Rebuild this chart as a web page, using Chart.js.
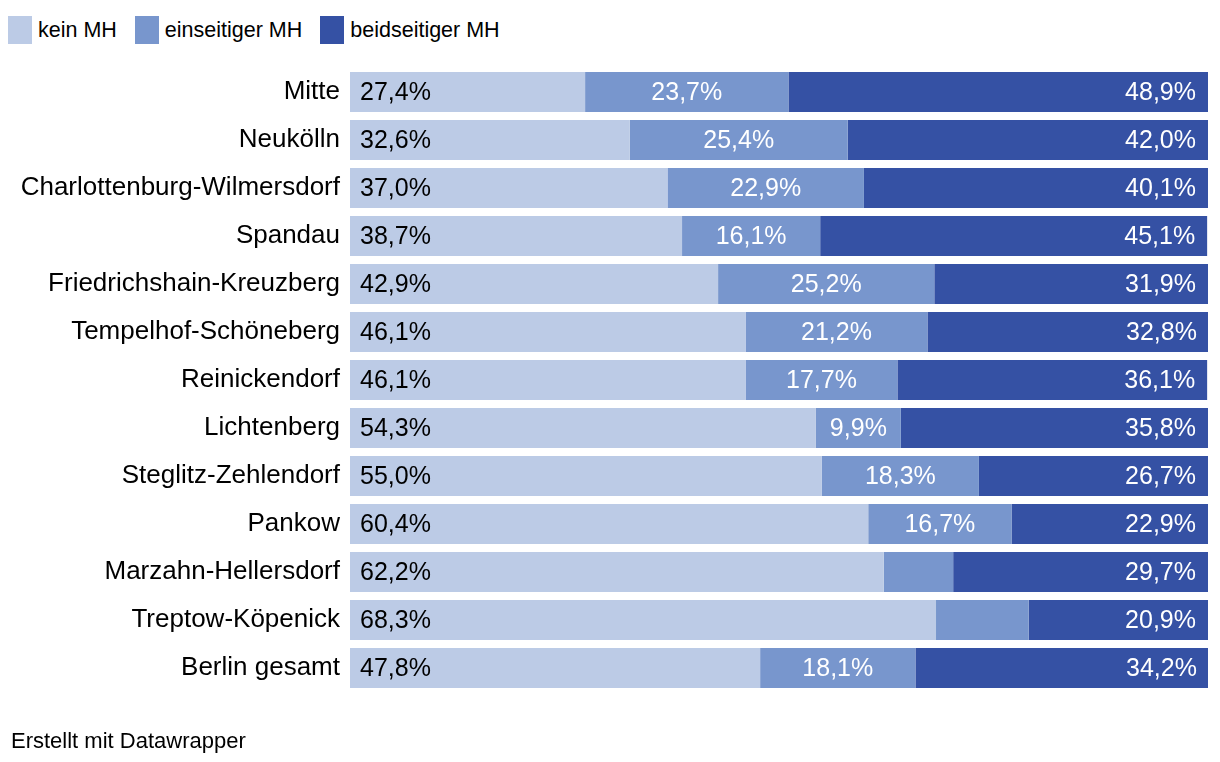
<!DOCTYPE html>
<html lang="de">
<head>
<meta charset="utf-8">
<title>Migrationshintergrund nach Bezirk</title>
<script src="https://cdn.jsdelivr.net/npm/chart.js@4/dist/chart.umd.min.js"></script>
<style>
  html, body { margin: 0; padding: 0; background: #fff; }
  body { width: 1220px; height: 762px; position: relative; overflow: hidden;
         font-family: "Liberation Sans", Arial, sans-serif; color: #000; }
  #legende { position: absolute; left: 8px; top: 16px; display: flex; font-size: 21.5px; line-height: 28px; }
  .eintrag { display: flex; align-items: center; margin-right: 18px; }
  .kasten { width: 24px; height: 28px; margin-right: 6px; }
  #wrap { position: absolute; left: 0; top: 0; width: 1220px; height: 762px; }
  #fuss { position: absolute; left: 11px; top: 728px; font-size: 22px; line-height: 26px; }
</style>
</head>
<body>
<div id="legende"></div>
<div id="wrap"><canvas id="grafik"></canvas></div>
<div id="fuss">Erstellt mit Datawrapper</div>
<script>
// --- DATEN ---
const bezirke = ['Mitte', 'Neukölln', 'Charlottenburg-Wilmersdorf', 'Spandau', 'Friedrichshain-Kreuzberg',
  'Tempelhof-Schöneberg', 'Reinickendorf', 'Lichtenberg', 'Steglitz-Zehlendorf', 'Pankow',
  'Marzahn-Hellersdorf', 'Treptow-Köpenick', 'Berlin gesamt'];
const keinMH = [27.4, 32.6, 37.0, 38.7, 42.9, 46.1, 46.1, 54.3, 55.0, 60.4, 62.2, 68.3, 47.8];
const einseitigMH = [23.7, 25.4, 22.9, 16.1, 25.2, 21.2, 17.7, 9.9, 18.3, 16.7, 8.1, 10.8, 18.1];
const beidseitigMH = [48.9, 42.0, 40.1, 45.1, 31.9, 32.8, 36.1, 35.8, 26.7, 22.9, 29.7, 20.9, 34.2];
// Werte ohne Beschriftung im Original (Marzahn-Hellersdorf, Treptow-Köpenick, mittleres Segment)
const ohneLabel = ['10-1', '11-1'];

const serien = ['kein MH', 'einseitiger MH', 'beidseitiger MH'];
const farben = ['#bccbe6', '#7896cd', '#3551a4'];
const schrift = '"Liberation Sans", Arial, sans-serif';

// --- LEGENDE ---
const legende = document.getElementById('legende');
serien.forEach((name, i) => {
  const el = document.createElement('div');
  el.className = 'eintrag';
  el.innerHTML = `<span class="kasten" style="background:${farben[i]}"></span><span>${name}</span>`;
  legende.appendChild(el);
});

function formatProzent(v) {
  return v.toFixed(1).replace('.', ',') + '%';
}

// --- PLUGIN FÜR DIE WERTE IN DEN BALKEN ---
const wertePlugin = {
  id: 'werte',
  afterDatasetsDraw(chart) {
    const ctx = chart.ctx;
    ctx.save();
    ctx.font = '25px ' + schrift;
    ctx.textBaseline = 'middle';
    chart.data.datasets.forEach((ds, di) => {
      const meta = chart.getDatasetMeta(di);
      meta.data.forEach((bar, i) => {
        if (ohneLabel.includes(i + '-' + di)) return;
        const txt = formatProzent(ds.data[i]);
        const links = bar.base, rechts = bar.x;
        const y = bar.y + 1;
        if (di === 0) {
          ctx.fillStyle = '#000';
          ctx.textAlign = 'left';
          ctx.fillText(txt, links + 10, y);
        } else if (di === 1) {
          ctx.fillStyle = '#fff';
          ctx.textAlign = 'center';
          ctx.fillText(txt, (links + rechts) / 2, y);
        } else {
          ctx.fillStyle = '#fff';
          ctx.textAlign = 'right';
          ctx.fillText(txt, rechts - 12, y);
        }
      });
    });
    ctx.restore();
  }
};

const datensaetze = [keinMH, einseitigMH, beidseitigMH].map((werte, i) => ({
  label: serien[i],
  data: werte,
  backgroundColor: farben[i],
  borderWidth: 0,
  categoryPercentage: 1,
  barPercentage: 40 / 48
}));

new Chart(document.getElementById('grafik'), {
  type: 'bar',
  data: { labels: bezirke, datasets: datensaetze },
  plugins: [wertePlugin],
  options: {
    indexAxis: 'y',
    responsive: true,
    maintainAspectRatio: false,
    animation: false,
    layout: { padding: { top: 68, bottom: 70, left: 0, right: 12 } },
    plugins: { legend: { display: false }, tooltip: { enabled: false } },
    scales: {
      x: { stacked: true, min: 0, max: 100, display: false },
      y: {
        stacked: true,
        grid: { display: false, drawTicks: false },
        border: { display: false },
        ticks: { color: '#000', padding: 10, font: { family: schrift, size: 26 } },
        afterFit(scale) { scale.width = 350; }
      }
    }
  }
});
</script>
</body>
</html>
